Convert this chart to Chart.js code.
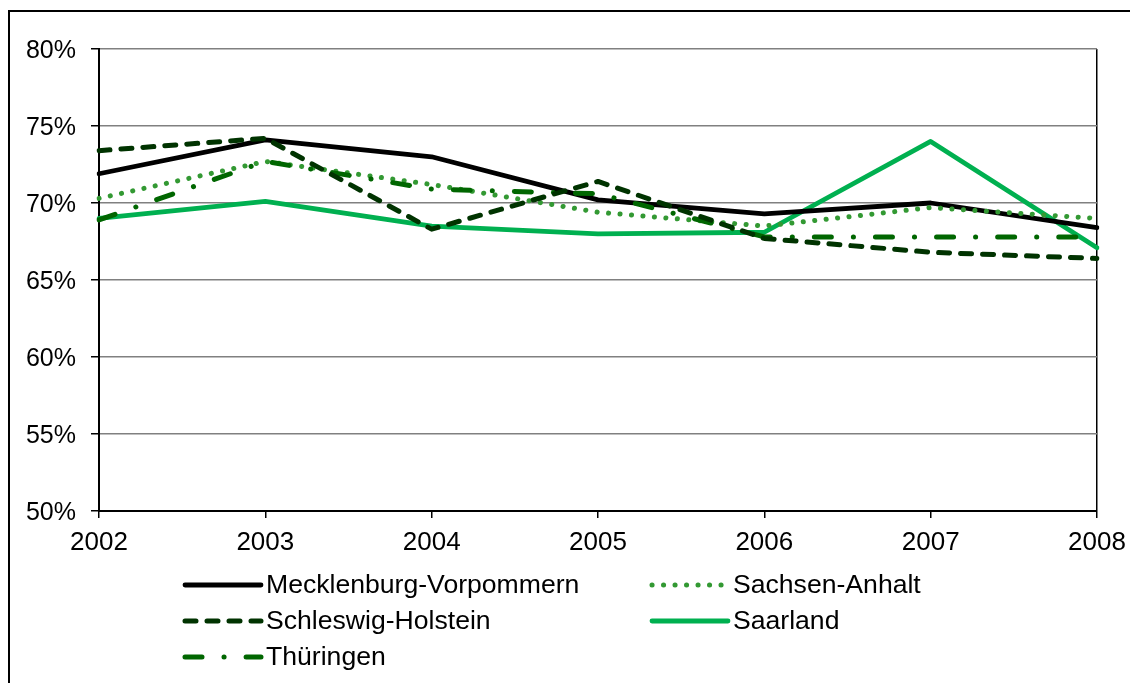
<!DOCTYPE html>
<html>
<head>
<meta charset="utf-8">
<script src="https://cdn.jsdelivr.net/npm/chart.js@4.4.0/dist/chart.umd.min.js"></script>
<style>
html,body{margin:0;padding:0;background:#fff;}
#wrap{position:relative;width:1130px;height:683px;overflow:hidden;}
canvas{display:block;}
</style>
</head>
<body>
<div id="wrap"><canvas id="c" width="1130" height="683"></canvas></div>
<script>
const years = ['2002','2003','2004','2005','2006','2007','2008'];
const mecklenburg = [71.9, 74.1, 73.0, 70.2, 69.3, 70.0, 68.4];
const sachsenAnhalt = [70.3, 72.7, 71.2, 69.4, 68.5, 69.7, 69.0];
const schleswig = [73.4, 74.2, 68.3, 71.4, 67.7, 66.8, 66.4];
const saarland = [69.0, 70.1, 68.5, 68.0, 68.1, 74.0, 67.1];
const thueringen = [68.9, 72.7, 70.9, 70.6, 67.8, 67.8, 67.8];
const seriesNames = ['Mecklenburg-Vorpommern','Sachsen-Anhalt','Schleswig-Holstein','Saarland','Thüringen'];
const yTicks = [50,55,60,65,70,75,80];

const FONT = '"Liberation Sans", Arial, sans-serif';

function ds(label, data, color, dash, width) {
  return {label, data, borderColor: color, backgroundColor: color, borderWidth: width,
    borderDash: dash, borderCapStyle: 'round', borderJoinStyle: 'round',
    pointRadius: 0, pointHoverRadius: 0, tension: 0, fill: false};
}

const datasets = [
  ds(seriesNames[2], schleswig, '#003300', [11, 11], 5),
  ds(seriesNames[4], thueringen, '#006600', [17, 22, 0.1, 22], 5),
  ds(seriesNames[1], sachsenAnhalt, '#339933', [0.1, 11.4], 5),
  ds(seriesNames[0], mecklenburg, '#000000', [], 4.8),
  ds(seriesNames[3], saarland, '#00B050', [], 4.8)
];

const legendLayout = [
  {name: seriesNames[0], x: 185, y: 585},
  {name: seriesNames[1], x: 652, y: 585},
  {name: seriesNames[2], x: 185, y: 621},
  {name: seriesNames[3], x: 652, y: 621},
  {name: seriesNames[4], x: 185, y: 657}
];

const framePlugin = {
  id: 'frame',
  beforeDraw(chart) {
    const ctx = chart.ctx;
    ctx.save();
    ctx.fillStyle = '#fff';
    ctx.fillRect(0, 0, chart.width, chart.height);
    ctx.strokeStyle = '#000';
    ctx.lineWidth = 2;
    ctx.beginPath();
    ctx.moveTo(9, chart.height + 5);
    ctx.lineTo(9, 11);
    ctx.lineTo(chart.width + 5, 11);
    ctx.stroke();
    ctx.restore();
  },
  afterDraw(chart) {
    const ctx = chart.ctx;
    ctx.save();
    legendLayout.forEach(item => {
      const d = chart.data.datasets.find(s => s.label === item.name);
      ctx.strokeStyle = d.borderColor;
      ctx.lineWidth = d.borderWidth;
      ctx.lineCap = 'round';
      ctx.setLineDash(d.borderDash || []);
      ctx.beginPath();
      ctx.moveTo(item.x, item.y);
      ctx.lineTo(item.x + 76, item.y);
      ctx.stroke();
      ctx.setLineDash([]);
      ctx.fillStyle = '#000';
      ctx.font = '26.6px ' + FONT;
      ctx.textBaseline = 'middle';
      ctx.textAlign = 'left';
      ctx.fillText(item.name, item.x + 81, item.y + 1);
    });
    ctx.restore();
  }
};

new Chart(document.getElementById('c'), {
  type: 'line',
  data: {labels: years, datasets},
  options: {
    responsive: false,
    animation: false,
    events: [],
    layout: {padding: {left: 0, top: 49, right: 33, bottom: 132}},
    plugins: {legend: {display: false}, tooltip: {enabled: false}, title: {display: false}},
    scales: {
      x: {
        offset: false,
        afterFit: s => { s.height = 40; s.paddingLeft = 0; s.paddingRight = 0; },
        grid: {
          drawOnChartArea: true,
          color: c => (c.index === years.length - 1 ? '#000' : 'rgba(0,0,0,0)'),
          lineWidth: 1.5,
          tickColor: '#000',
          tickLength: 7,
          drawTicks: true
        },
        border: {display: true, color: '#000', width: 2},
        ticks: {color: '#000', font: {family: FONT, size: 26}, padding: 9, maxRotation: 0, autoSkip: false}
      },
      y: {
        min: 50, max: 80,
        afterFit: s => { s.width = 99; s.paddingTop = 0; s.paddingBottom = 0; },
        afterBuildTicks: s => { s.ticks = yTicks.map(v => ({value: v})); },
        grid: {color: '#808080', lineWidth: 1.5, tickColor: '#000', tickLength: 8},
        border: {display: true, color: '#000', width: 2},
        ticks: {color: '#000', font: {family: FONT, size: 25}, padding: 15, labelOffset: 2,
          callback: v => v + '%'}
      }
    }
  },
  plugins: [framePlugin]
});
</script>
</body>
</html>
